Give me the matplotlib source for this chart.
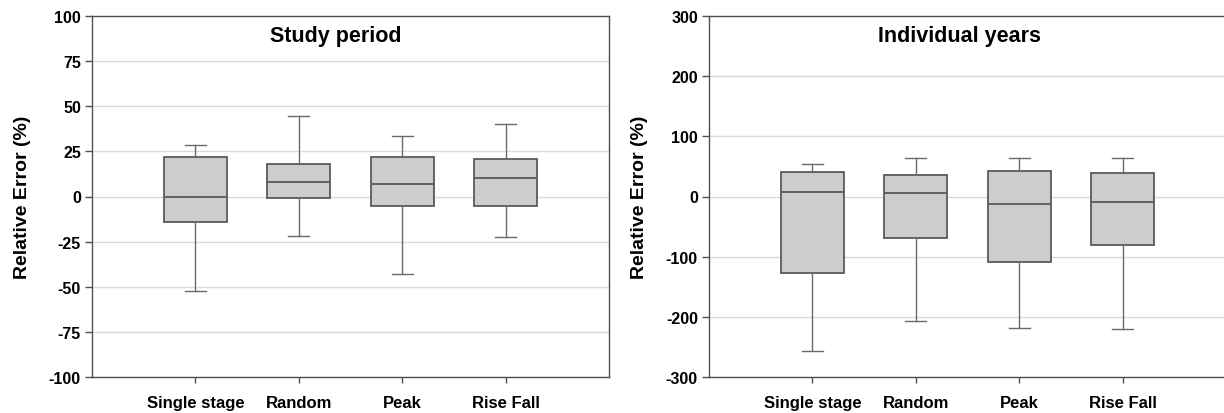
import matplotlib
matplotlib.use("Agg")
import matplotlib.pyplot as plt

plt.rcParams["font.family"] = ["Liberation Sans", "DejaVu Sans"]
plt.rcParams["font.weight"] = "bold"
plt.rcParams["axes.unicode_minus"] = False

categories = ["Single stage", "Random", "Peak", "Rise Fall"]

# Study period (box statistics)
study_whislo = [-52.4, -21.9, -43.0, -22.6]
study_q1 = [-14.0, -1.1, -5.0, -5.0]
study_med = [0.0, 8.1, 7.2, 10.0]
study_q3 = [22.0, 18.0, 22.0, 21.0]
study_whishi = [28.5, 44.4, 33.5, 40.0]
study_ticks = [-100, -75, -50, -25, 0, 25, 50, 75, 100]

# Individual years
years_whislo = [-257, -207, -218, -221]
years_q1 = [-126.7, -69.4, -108.3, -80.0]
years_med = [7.8, 5.6, -12.2, -8.9]
years_q3 = [40.0, 35.6, 42.2, 38.9]
years_whishi = [54.4, 64.4, 63.3, 64.4]
years_ticks = [-300, -200, -100, 0, 100, 200, 300]

W, H = 1224, 414
fig = plt.figure(figsize=(W / 100, H / 100), dpi=100)


def make_stats(lo, q1, med, q3, hi):
    stats = []
    for i in range(len(categories)):
        stats.append({"whislo": lo[i], "q1": q1[i], "med": med[i], "q3": q3[i],
                      "whishi": hi[i], "fliers": [], "label": categories[i]})
    return stats


def draw_panel(ax, stats, ticks, title, title_x):
    positions = list(range(1, len(categories) + 1))
    ax.bxp(stats, positions=positions, widths=0.61, patch_artist=True,
           showfliers=False,
           boxprops=dict(facecolor="#cdcdcd", edgecolor="#5a5a5a", linewidth=1.3),
           medianprops=dict(color="#5a5a5a", linewidth=1.3),
           whiskerprops=dict(color="#6a6a6a", linewidth=1.0),
           capprops=dict(color="#6a6a6a", linewidth=1.0),
           capwidths=0.2, zorder=3)
    ax.set_xlim(0, 5)
    ax.set_ylim(ticks[0], ticks[-1])
    ax.set_yticks(ticks)
    ax.set_xticks(positions)
    ax.set_xticklabels(categories, fontsize=12, fontweight="bold")
    for lbl in ax.get_yticklabels():
        lbl.set_fontsize(11.5)
        lbl.set_fontweight("bold")
    ax.yaxis.grid(True, color="#dadada", linewidth=1.0, zorder=0)
    ax.set_axisbelow(True)
    for s in ax.spines.values():
        s.set_color("#505050")
        s.set_linewidth(1.0)
    ax.tick_params(axis="y", length=5, width=1, color="#505050", pad=3)
    ax.tick_params(axis="x", length=4, width=1, color="#505050", pad=9)
    ax.set_ylabel("Relative Error (%)", fontsize=14, fontweight="bold")
    ax.yaxis.set_label_coords(-0.118, 0.5)
    ax.text(title_x, 0.931, title, transform=ax.transAxes, ha="center",
            va="baseline", fontsize=15.5, fontweight="bold")


ax1 = fig.add_axes([92 / W, 36 / H, 517 / W, 361 / H])
draw_panel(ax1, make_stats(study_whislo, study_q1, study_med, study_q3, study_whishi),
           study_ticks, "Study period", 0.472)

ax2 = fig.add_axes([709 / W, 36 / H, 517 / W, 361 / H])
draw_panel(ax2, make_stats(years_whislo, years_q1, years_med, years_q3, years_whishi),
           years_ticks, "Individual years", 0.484)

fig.savefig("out.png", dpi=100)
